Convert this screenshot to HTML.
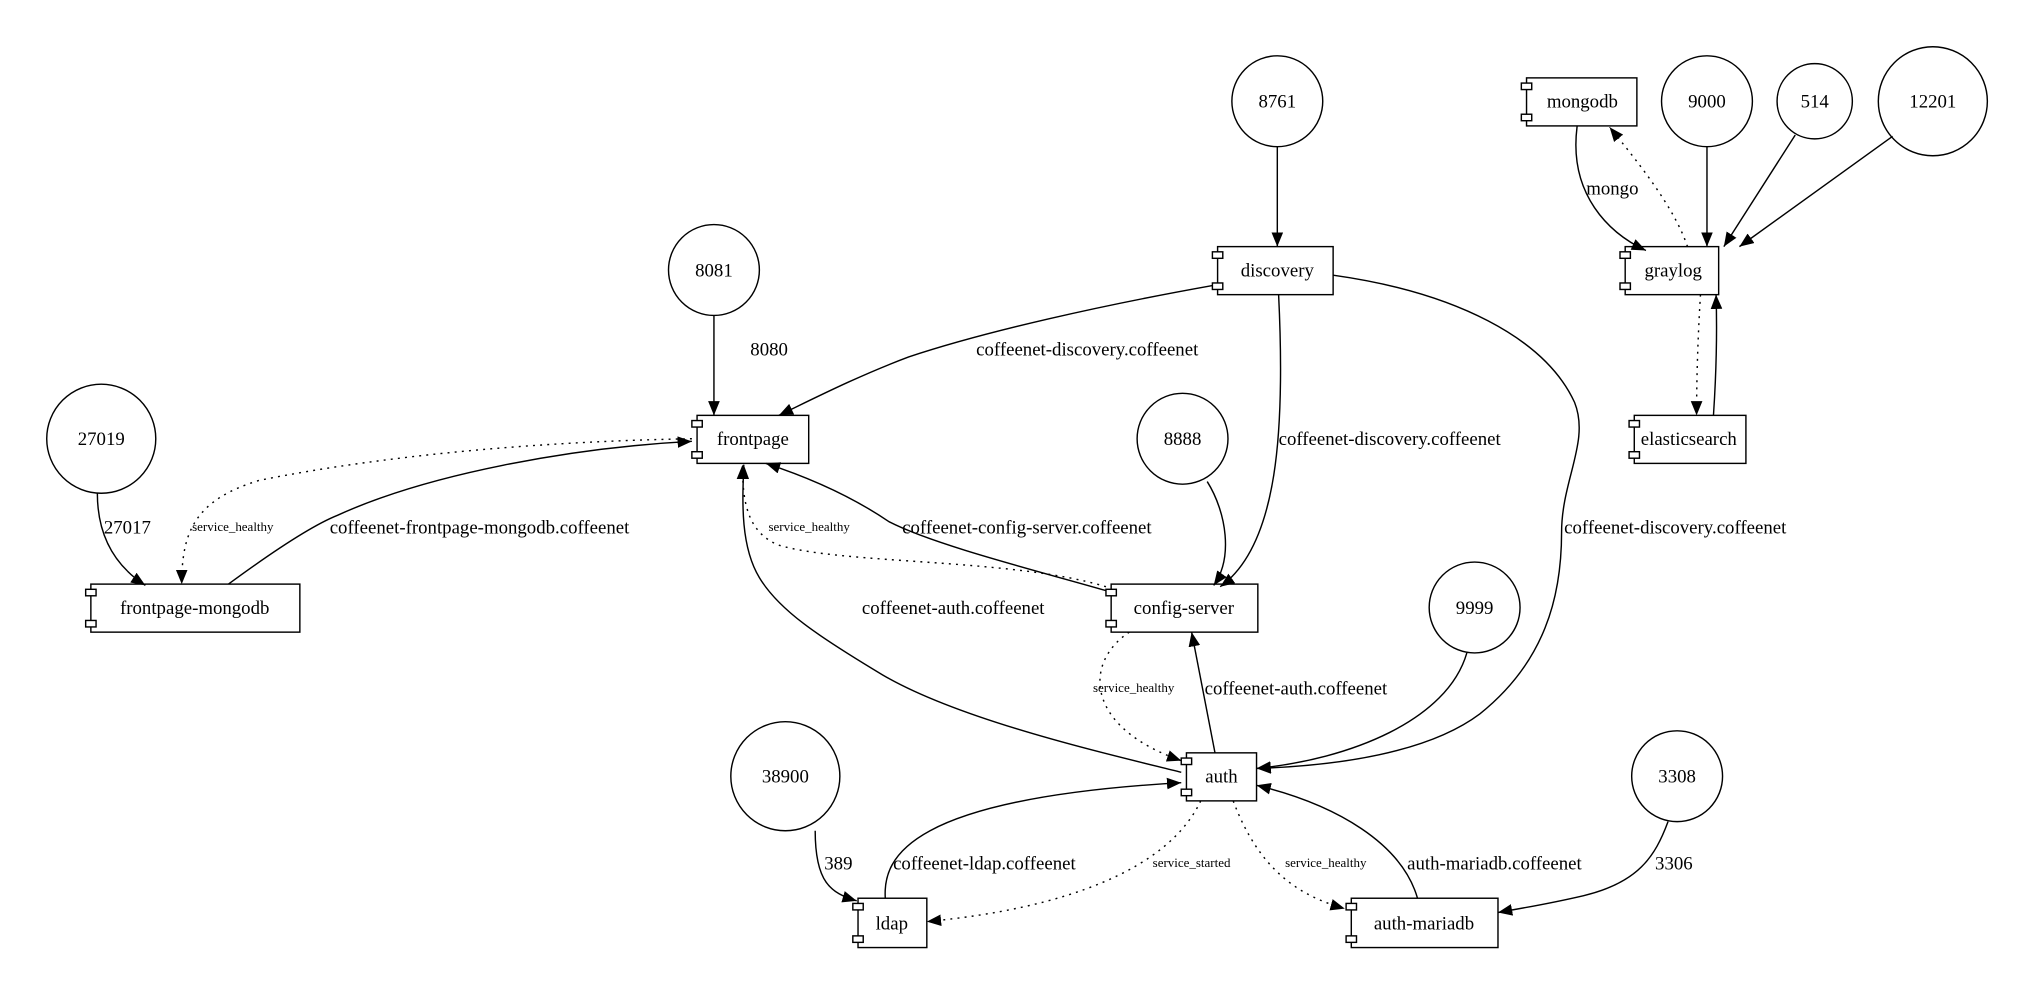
<!DOCTYPE html>
<html><head><meta charset="utf-8"><style>
html,body{margin:0;padding:0;background:#fff;}
svg{display:block}
text{font-family:"Liberation Serif",serif;fill:#000}
</style></head><body>
<svg width="2025" height="990" viewBox="0 0 1560 762.7" preserveAspectRatio="none" xmlns="http://www.w3.org/2000/svg">
<defs>
<marker id="a" markerUnits="userSpaceOnUse" markerWidth="12" markerHeight="10" refX="11" refY="4.5" orient="auto">
<path d="M0,0 L11,4.5 L0,9 Z" fill="#000"/>
</marker>
<g id="comp">
</g>
</defs>
<rect width="1560" height="763" fill="#fff"/>
<g fill="none" stroke="#000" stroke-width="1.1">
<!-- circles -->
<circle cx="984" cy="78" r="35"/>
<circle cx="1315" cy="78" r="35"/>
<circle cx="1398" cy="78" r="29"/>
<circle cx="1489" cy="78" r="42"/>
<circle cx="550" cy="208" r="35"/>
<circle cx="78" cy="338" r="42"/>
<circle cx="911" cy="338" r="35"/>
<circle cx="1136" cy="468" r="35"/>
<circle cx="605" cy="598" r="42"/>
<circle cx="1292" cy="598" r="35"/>
<!-- component boxes -->
<rect x="938" y="190" width="89" height="37"/><rect x="934" y="194" width="8" height="5" fill="#fff"/><rect x="934" y="218" width="8" height="5" fill="#fff"/>
<rect x="1176" y="60" width="85" height="37"/><rect x="1172" y="64" width="8" height="5" fill="#fff"/><rect x="1172" y="88" width="8" height="5" fill="#fff"/>
<rect x="1252" y="190" width="72" height="37"/><rect x="1248" y="194" width="8" height="5" fill="#fff"/><rect x="1248" y="218" width="8" height="5" fill="#fff"/>
<rect x="1259" y="320" width="86" height="37"/><rect x="1255" y="324" width="8" height="5" fill="#fff"/><rect x="1255" y="348" width="8" height="5" fill="#fff"/>
<rect x="537" y="320" width="86" height="37"/><rect x="533" y="324" width="8" height="5" fill="#fff"/><rect x="533" y="348" width="8" height="5" fill="#fff"/>
<rect x="70" y="450" width="161" height="37"/><rect x="66" y="454" width="8" height="5" fill="#fff"/><rect x="66" y="478" width="8" height="5" fill="#fff"/>
<rect x="856" y="450" width="113" height="37"/><rect x="852" y="454" width="8" height="5" fill="#fff"/><rect x="852" y="478" width="8" height="5" fill="#fff"/>
<rect x="914" y="580" width="54" height="37"/><rect x="910" y="584" width="8" height="5" fill="#fff"/><rect x="910" y="608" width="8" height="5" fill="#fff"/>
<rect x="661" y="692" width="53" height="38"/><rect x="657" y="696" width="8" height="5" fill="#fff"/><rect x="657" y="721" width="8" height="5" fill="#fff"/>
<rect x="1041" y="692" width="113" height="38"/><rect x="1037" y="696" width="8" height="5" fill="#fff"/><rect x="1037" y="721" width="8" height="5" fill="#fff"/>
</g>
<g fill="none" stroke="#000" stroke-width="1.1" marker-end="url(#a)">
<path d="M984,113 L984,190"/>
<path d="M934,220 C850,235 760,255 700,275 C660,290 625,308 600,320"/>
<path d="M985,227 C990,330 985,420 940,452"/>
<path d="M1027,212 C1120,225 1190,260 1213,310 C1225,340 1203,370 1203,410 C1203,460 1190,510 1140,550 C1100,580 1030,590 968,592"/>
<path d="M550,243 L550,320"/>
<path d="M75,380 C75,420 95,440 112,451"/>
<path d="M176,450 C210,425 240,405 260,397 C330,365 440,345 533,340"/>
<path d="M852,455 C800,440 720,420 685,402 C660,385 630,370 590,357"/>
<path d="M910,595 C850,580 740,555 680,520 C630,490 600,470 585,445 C570,420 572,385 573,358"/>
<path d="M930,371 C945,395 950,430 935,451"/>
<path d="M936,580 L918,487"/>
<path d="M1130,503 C1115,555 1040,585 968,592"/>
<path d="M628,640 C628,680 640,688 660,694"/>
<path d="M682,692 C680,660 700,615 910,603"/>
<path d="M1092,692 C1080,650 1030,620 968,605"/>
<path d="M1285,633 C1275,660 1262,680 1220,690 C1190,697 1170,700 1154,703"/>
<path d="M1215,97 C1208,150 1240,180 1268,193"/>
<path d="M1315,113 L1315,190"/>
<path d="M1383,104 L1328,190"/>
<path d="M1458,105 L1340,190"/>
<path d="M1320,320 C1322,290 1323,260 1322,227"/>
</g>
<g fill="none" stroke="#000" stroke-width="1.1" stroke-dasharray="1.5,4" marker-end="url(#a)">
<path d="M533,338 C420,340 300,350 200,370 C150,385 140,410 140,450"/>
<path d="M852,452 C780,430 650,435 600,420 C575,410 572,385 572,358"/>
<path d="M870,487 C835,510 835,560 910,586"/>
<path d="M925,617 C900,670 820,700 714,710"/>
<path d="M950,617 C970,670 1000,690 1036,700"/>
<path d="M1300,190 C1290,160 1262,125 1240,98"/>
<path d="M1310,227 C1308,260 1307,290 1307,320"/>
</g>
<g font-size="14.5" text-anchor="middle">
<text x="984" y="83">8761</text>
<text x="1315" y="83">9000</text>
<text x="1398" y="83">514</text>
<text x="1489" y="83">12201</text>
<text x="550" y="213">8081</text>
<text x="78" y="343">27019</text>
<text x="911" y="343">8888</text>
<text x="1136" y="473">9999</text>
<text x="605" y="603">38900</text>
<text x="1292" y="603">3308</text>
<text x="984" y="213">discovery</text>
<text x="1219" y="83">mongodb</text>
<text x="1289" y="213">graylog</text>
<text x="1301" y="343">elasticsearch</text>
<text x="580" y="343">frontpage</text>
<text x="150" y="473">frontpage-mongodb</text>
<text x="912" y="473">config-server</text>
<text x="941" y="603">auth</text>
<text x="687" y="716">ldap</text>
<text x="1097" y="716">auth-mariadb</text>
</g>
<g font-size="14.5">
<text x="752" y="274">coffeenet-discovery.coffeenet</text>
<text x="985" y="343">coffeenet-discovery.coffeenet</text>
<text x="1205" y="411">coffeenet-discovery.coffeenet</text>
<text x="578" y="274">8080</text>
<text x="80" y="411">27017</text>
<text x="254" y="411">coffeenet-frontpage-mongodb.coffeenet</text>
<text x="695" y="411">coffeenet-config-server.coffeenet</text>
<text x="664" y="473">coffeenet-auth.coffeenet</text>
<text x="928" y="535">coffeenet-auth.coffeenet</text>
<text x="635" y="670">389</text>
<text x="688" y="670">coffeenet-ldap.coffeenet</text>
<text x="1084" y="670">auth-mariadb.coffeenet</text>
<text x="1275" y="670">3306</text>
<text x="1222" y="150">mongo</text>
</g>
<g font-size="10">
<text x="148" y="409">service_healthy</text>
<text x="592" y="409">service_healthy</text>
<text x="842" y="533">service_healthy</text>
<text x="888" y="668">service_started</text>
<text x="990" y="668">service_healthy</text>
</g>
</svg>
</body></html>
